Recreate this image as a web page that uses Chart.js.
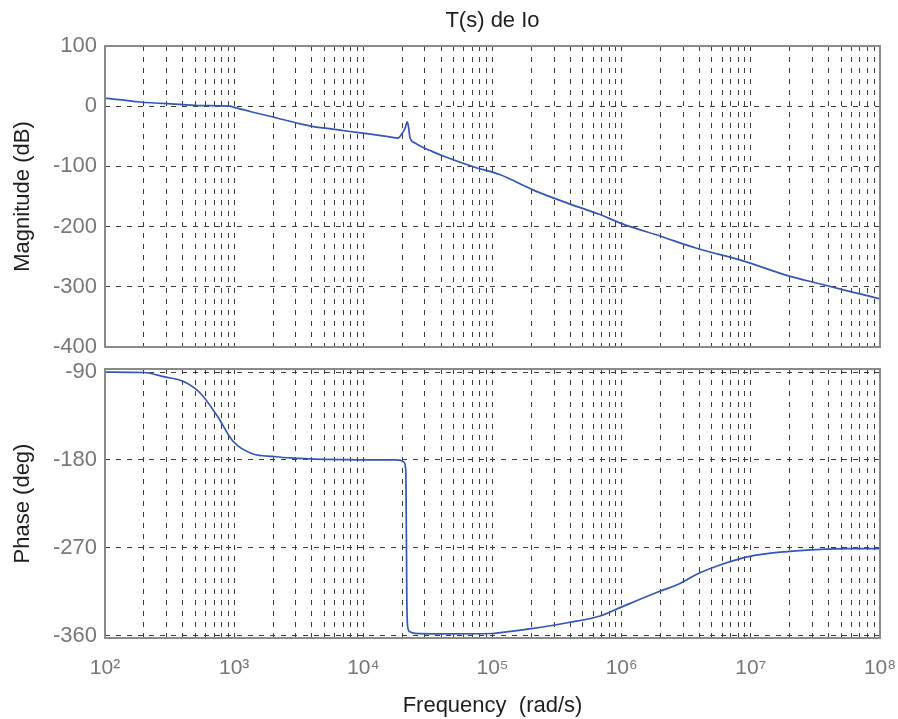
<!DOCTYPE html>
<html>
<head>
<meta charset="utf-8">
<script src="https://cdn.jsdelivr.net/npm/chart.js@4.4.1/dist/chart.umd.min.js"></script>
<style>
html,body{margin:0;padding:0;background:#ffffff;}
#wrap{position:relative;width:898px;height:719px;background:#ffffff;}
canvas{position:absolute;left:0;top:0;}
</style>
</head>
<body>
<div id="wrap">
<canvas id="mag" width="898" height="719"></canvas>
<canvas id="phase" width="898" height="719"></canvas>
</div>
<script>
// ---- data ----
const chartTitle = 'T(s) de Io';
const magFreq = [100, 186, 380, 550, 930, 1000, 1400, 2000, 3200, 3900, 5800, 7900, 11000, 16000, 18500,
  20000, 21000, 21900, 22500, 22900, 25100, 28800, 34000, 43000, 72000, 115000, 205000, 380000, 680000,
  1000000, 2000000, 3800000, 8700000, 19000000, 34000000, 59000000, 100000000];
const magDb = [13.5, 7, 3, 1, 0, -2, -10, -18, -29, -33, -38, -42, -46, -51, -53,
  -45, -37, -26, -38, -51, -61, -68, -75, -84, -101, -114, -139, -161, -180,
  -195, -216, -236, -257, -281, -295, -308, -320];

const phaseFreq = [100, 200, 290, 410, 550, 740, 980, 1400, 2000, 2700, 5000, 10000, 17800, 19500,
  20500, 21300, 21500, 21700, 22000, 22800, 25000, 40000, 100000, 115000, 200000, 380000, 680000,
  950000, 1950000, 2800000, 4000000, 5700000, 9800000, 19000000, 32000000, 58000000, 100000000];
const phaseDeg = [-90, -90.5, -95, -100, -112, -135, -161, -174, -176.5, -178, -179.5, -180, -180, -180.5,
  -182, -190, -240, -320, -350, -356, -357.8, -358.3, -358, -357, -353, -347, -340,
  -332, -315, -307, -296, -288, -279, -274, -272, -271, -271];

const freqDecades = [1e2, 1e3, 1e4, 1e5, 1e6, 1e7, 1e8];
const xTickLabels = ['10²', '10³', '10⁴', '10⁵', '10⁶', '10⁷', '10⁸'];
const magTicks = [-400, -300, -200, -100, 0, 100];
const phaseTicks = [-360, -270, -180, -90];

const magTitle = 'Magnitude (dB)';
const phaseTitle = 'Phase (deg)';
const freqTitle = 'Frequency  (rad/s)';

// ---- styling ----
const FONT = 'Arial, "Liberation Sans", Helvetica, sans-serif';
const gridColor = '#3c3c3c';
const frameColor = '#8a8a8a';
const tickColor = '#777777';
const textColor = '#1e1e1e';
const lineColor = '#3456b5';

function xGridTicks() {
  const out = [];
  for (let i = 0; i < freqDecades.length - 1; i++) {
    for (let k = 1; k <= 9; k++) out.push(k * freqDecades[i]);
  }
  out.push(freqDecades[freqDecades.length - 1]);
  return out;
}

const framePlugin = {
  id: 'frame',
  afterDraw(chart) {
    const a = chart.chartArea;
    const ctx = chart.ctx;
    ctx.save();
    ctx.strokeStyle = frameColor;
    ctx.lineWidth = 2;
    ctx.strokeRect(a.left, a.top, a.right - a.left, a.bottom - a.top);
    ctx.restore();
  }
};

function makeX(showLabels) {
  return {
    type: 'logarithmic',
    min: freqDecades[0],
    max: freqDecades[freqDecades.length - 1],
    afterBuildTicks: (sc) => { sc.ticks = xGridTicks().map(v => ({ value: v })); },
    afterFit: (sc) => {
      sc.height = showLabels ? 81 : 0;
      sc.paddingLeft = 0;
      sc.paddingRight = 0;
    },
    grid: { color: gridColor, lineWidth: 1, drawTicks: false },
    border: { display: false, dash: [5, 6] },
    ticks: {
      display: showLabels,
      autoSkip: false,
      maxRotation: 0,
      minRotation: 0,
      padding: 18,
      color: tickColor,
      font: { family: FONT, size: 21 },
      callback: (v) => { const i = freqDecades.indexOf(v); return i >= 0 ? xTickLabels[i] : ''; }
    },
    title: {
      display: showLabels,
      text: freqTitle,
      color: textColor,
      font: { family: FONT, size: 22 },
      padding: { top: 0, bottom: 0 }
    }
  };
}

function makeY(min, max, ticks, title) {
  return {
    type: 'linear',
    min: min,
    max: max,
    afterBuildTicks: (sc) => { sc.ticks = ticks.map(v => ({ value: v })); },
    afterFit: (sc) => { sc.width = 105; sc.paddingTop = 0; sc.paddingBottom = 0; },
    grid: { color: gridColor, lineWidth: 1, drawTicks: false },
    border: { display: false, dash: [5, 6] },
    ticks: {
      padding: 8,
      color: tickColor,
      font: { family: FONT, size: 22 }
    },
    title: {
      display: true,
      text: title,
      color: textColor,
      font: { family: FONT, size: 22 },
      padding: { top: 10, bottom: 0 }
    }
  };
}

function lineDataset(xs, ys) {
  return {
    data: xs.map((f, i) => ({ x: f, y: ys[i] })),
    borderColor: lineColor,
    borderWidth: 1.7,
    pointRadius: 0,
    cubicInterpolationMode: 'monotone',
    fill: false
  };
}

Chart.defaults.animation = false;

new Chart(document.getElementById('mag'), {
  type: 'line',
  data: { datasets: [lineDataset(magFreq, magDb)] },
  options: {
    responsive: false,
    animation: false,
    layout: { padding: { left: 0, right: 18, top: 0, bottom: 372 } },
    plugins: {
      legend: { display: false },
      tooltip: { enabled: false },
      title: {
        display: true,
        fullSize: false,
        text: chartTitle,
        color: textColor,
        font: { family: FONT, size: 22, weight: 'normal' },
        padding: { top: 8, bottom: 11.6 }
      }
    },
    scales: {
      x: makeX(false),
      y: makeY(-400, 100, magTicks, magTitle)
    }
  },
  plugins: [framePlugin]
});

new Chart(document.getElementById('phase'), {
  type: 'line',
  data: { datasets: [lineDataset(phaseFreq, phaseDeg)] },
  options: {
    responsive: false,
    animation: false,
    layout: { padding: { left: 0, right: 18, top: 369, bottom: 0 } },
    plugins: {
      legend: { display: false },
      tooltip: { enabled: false }
    },
    scales: {
      x: makeX(true),
      y: makeY(-362.6, -86.9, phaseTicks, phaseTitle)
    }
  },
  plugins: [framePlugin]
});
</script>
</body>
</html>
